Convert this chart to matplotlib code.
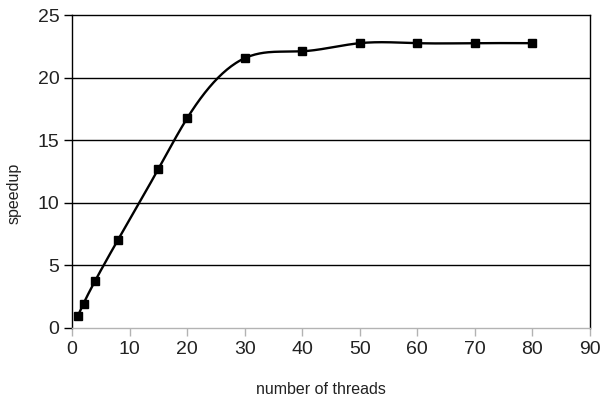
import numpy as np
import matplotlib
matplotlib.use("Agg")
import matplotlib.pyplot as plt

# data
threads = [1, 2, 4, 8, 15, 20, 30, 40, 50, 60, 70, 80]
speedup = [0.95, 1.95, 3.75, 7.05, 12.7, 16.75, 21.55, 22.1, 22.75, 22.75, 22.75, 22.75]

x_ticks = [0, 10, 20, 30, 40, 50, 60, 70, 80, 90]
y_ticks = [0, 5, 10, 15, 20, 25]


def natural_spline(x, y, n=40):
    # natural cubic spline, used only to draw the smoothed line
    x = np.asarray(x, float)
    y = np.asarray(y, float)
    m = len(x)
    h = np.diff(x)
    A = np.zeros((m, m))
    b = np.zeros(m)
    A[0, 0] = A[-1, -1] = 1
    for i in range(1, m - 1):
        A[i, i - 1] = h[i - 1]
        A[i, i] = 2 * (h[i - 1] + h[i])
        A[i, i + 1] = h[i]
        b[i] = 6 * ((y[i + 1] - y[i]) / h[i] - (y[i] - y[i - 1]) / h[i - 1])
    M = np.linalg.solve(A, b)
    xs, ys = [], []
    for i in range(m - 1):
        t = np.linspace(x[i], x[i + 1], n)
        a = x[i + 1] - t
        c = t - x[i]
        s = (M[i] * a**3 + M[i + 1] * c**3) / (6 * h[i]) \
            + (y[i] / h[i] - M[i] * h[i] / 6) * a \
            + (y[i + 1] / h[i] - M[i + 1] * h[i] / 6) * c
        xs.extend(t)
        ys.extend(s)
    return np.array(xs), np.array(ys)


plt.rcParams['font.family'] = ['Liberation Sans', 'DejaVu Sans']
text_col = '#222222'

fig = plt.figure(figsize=(6.01, 4.01), dpi=100)
ax = fig.add_axes([72 / 601, 1 - 328 / 401, 518 / 601, 313 / 401])

sx, sy = natural_spline(threads, speedup)
ax.plot(sx, sy, color='black', linewidth=1.7, zorder=3)
ax.plot(threads, speedup, 's', color='black', markersize=6, zorder=4)

ax.set_xlim(0, 90)
ax.set_ylim(0, 25)
ax.set_xticks(x_ticks)
ax.set_yticks(y_ticks)

# horizontal grid lines
for v in y_ticks[1:-1]:
    ax.axhline(v, color='black', linewidth=1, zorder=1)

for s in ['left', 'top', 'right']:
    ax.spines[s].set_color('black')
    ax.spines[s].set_linewidth(1)
ax.spines['bottom'].set_color('#b3b3b3')
ax.spines['bottom'].set_linewidth(1)

ax.tick_params(axis='y', length=6, width=1, color='black', labelsize=14, pad=3, labelcolor=text_col)
ax.tick_params(axis='x', length=6, width=1, color='#b3b3b3', labelsize=14, pad=3, labelcolor=text_col)

ax.set_xlabel('number of threads', fontsize=11.5, color=text_col, va='center')
ax.set_ylabel('speedup', fontsize=11.5, color=text_col, va='center')
ax.xaxis.set_label_coords(0.481, -(389 - 328) / 313)
ax.yaxis.set_label_coords((14 - 72) / 518, (328 - 193) / 313)

fig.savefig('out.png', dpi=100)
